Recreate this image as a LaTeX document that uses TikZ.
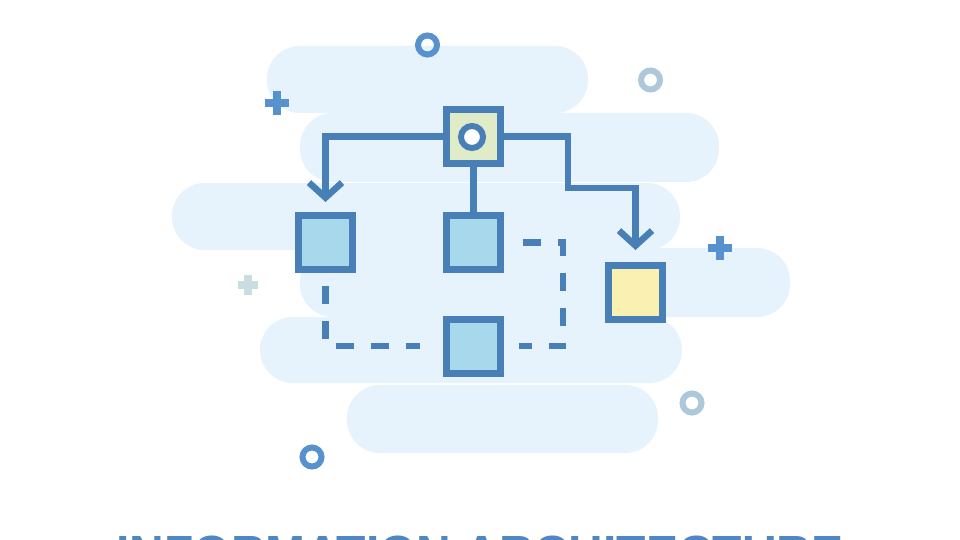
\documentclass[tikz,border=0pt]{standalone}
\usepackage{fontspec}
\setmainfont{Liberation Sans}
\usetikzlibrary{arrows.meta}
\definecolor{ink}{RGB}{72,127,183}
\definecolor{skyfill}{RGB}{168,216,236}
\definecolor{palegreen}{RGB}{224,235,200}
\definecolor{paleyel}{RGB}{250,240,178}
\definecolor{cloudc}{RGB}{230,242,252}
\definecolor{deep}{RGB}{88,146,206}
\definecolor{mist}{RGB}{172,200,218}
\definecolor{faint}{RGB}{202,221,224}
\definecolor{titlec}{RGB}{80,135,195}

\begin{document}
\begin{tikzpicture}[x=1pt, y=-1pt, box/.style={draw=ink, line width=7pt, minimum size=54pt, inner sep=0pt}, n/.style={draw=ink, line width=6.5pt}, a/.style={n, -{Straight Barb[length=15pt, width=33pt, sharp, line cap=butt]}, shorten >=10pt}, d/.style={n, dash pattern=on 18pt off 17pt}, cloud/.style={fill=cloudc, rounded corners=33pt}, ring/.style={draw=#1, line width=6pt}, plus/.style={draw=#1, line width=7.5pt}]
            \useasboundingbox (0,0) rectangle (960,540);
            \clip (0,0) rectangle (960,540);
            \fill[white] (0,0) rectangle (960,540);
            % clouds
            \fill[cloud] (267,46) rectangle (588,113);
            \fill[cloud] (300,113) rectangle (719,182);
            \fill[cloud] (172,183) rectangle (680,250);
            \fill[cloud] (300,248) rectangle (790,317);
            \fill[cloud] (260,317) rectangle (682,383);
            \fill[cloud] (347,385) rectangle (658,453);
            % decorations
            \draw[ring=deep] (427.5,45) circle (9.5);
            \draw[ring=mist] (650.5,80) circle (9.5);
            \draw[ring=mist] (692,403) circle (9.5);
            \draw[ring=deep] (312,457) circle (9.5);
            \draw[plus=deep] (265,103) -- (289,103) (277,91) -- (277,115);
            \draw[plus=deep] (708,248) -- (732,248) (720,236) -- (720,260);
            \draw[plus=faint] (238,285) -- (258,285) (248,275) -- (248,295);
            % nodes
            \node[box, fill=palegreen] (root) at (473.5,136.5) {};
            \node[circle, draw=ink, line width=6pt, fill=white, minimum size=22pt, inner sep=0pt] (hub) at (472,137) {};
            \node[box, fill=skyfill] (lbox) at (325.5,242.5) {};
            \node[box, fill=skyfill] (mbox) at (473.5,242.5) {};
            \node[box, fill=skyfill] (bbox) at (473.5,346) {};
            \node[box, fill=paleyel] (ybox) at (635.5,292.5) {};
            \coordinate (turn) at (568,188);
            \coordinate (loopc) at (563,346);
            \node[font=\fontsize{48}{48}\selectfont\bfseries, text=titlec, anchor=base] (title) at (480,569) {INFORMATION ARCHITECTURE};
            % edges
            \draw[a] (root.west) -| (lbox.north);
            \draw[n] (root.south) -- (mbox.north);
            \draw[a, shorten >=12pt] (root.east) -| (turn) -| (ybox.north);
            \draw[d, shorten <=13pt, shorten >=23pt] (lbox.south) |- (bbox.west);
            \draw[d, shorten <=19pt, shorten >=15pt] (mbox.east) -| (loopc) -- (bbox.east);
        \end{tikzpicture}
\end{document}
